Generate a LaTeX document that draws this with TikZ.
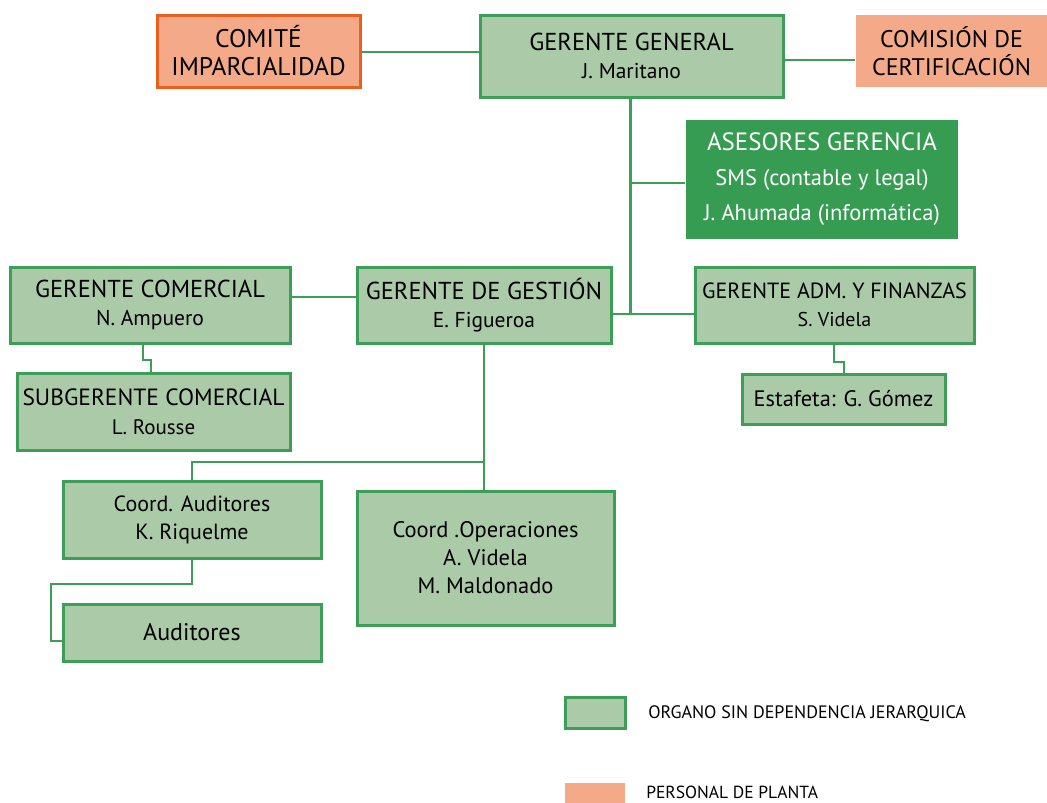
\documentclass[tikz,border=0pt]{standalone}
\usepackage{fontspec}
\setmainfont{PT Sans}
\definecolor{boxgreen}{HTML}{ABCBA8}
\definecolor{linegreen}{HTML}{3D9E58}
\definecolor{darkgreen}{HTML}{359C52}
\definecolor{salmon}{HTML}{F4A988}
\definecolor{orangeline}{HTML}{E9601E}
\newcommand{\person}[1]{{\fontsize{21.5}{24}\selectfont #1}}

\begin{document}
\begin{tikzpicture}[x=1pt,y=-1pt,line width=2.6pt,
    box/.style={draw=linegreen,line width=3pt,fill=boxgreen,align=center,inner sep=0pt,font=\fontsize{24.5}{28}\selectfont},
    link/.style={draw=linegreen,line width=2.6pt}]
    \useasboundingbox (0,0) rectangle (1047,803);

    % top row
    \node[box,minimum width=303,minimum height=82] (gg) at (631.5,56) {GERENTE GENERAL\\\person{J. Maritano}};
    \node[box,fill=salmon,draw=orangeline,minimum width=203,minimum height=72,font=\fontsize{25.5}{28}\selectfont] (comite) at (258.5,51) {COMITÉ\\IMPARCIALIDAD};
    \node[box,fill=salmon,draw=none,minimum width=191,minimum height=72,font=\fontsize{24}{28}\selectfont] (comision) at (951.5,51) {COMISIÓN DE\\CERTIFICACIÓN};

    \node[box,fill=darkgreen,draw=none,text=white,minimum width=272,minimum height=119,
        font=\fontsize{22.5}{35}\selectfont] (asesores) at (822,179.5)
        {{\fontsize{25}{28}\selectfont ASESORES GERENCIA}\\SMS (contable y legal)\\J. Ahumada (informática)};

    % second row
    \node[box,minimum width=280,minimum height=76] (gcom) at (150,305) {GERENTE COMERCIAL\\\person{N. Ampuero}};
    \node[box,minimum width=254,minimum height=76] (gges) at (484,305) {GERENTE DE GESTIÓN\\\person{E. Figueroa}};
    \node[box,minimum width=279,minimum height=76,font=\fontsize{22}{28}\selectfont] (gadm) at (834.5,305) {GERENTE ADM. Y FINANZAS\\{\fontsize{20}{24}\selectfont S. Videla}};

    \node[box,minimum width=273,minimum height=77,font=\fontsize{23.5}{29}\selectfont] (subcom) at (153.5,411.5) {SUBGERENTE COMERCIAL\\{\fontsize{21}{24}\selectfont L. Rousse}};
    \node[box,minimum width=203,minimum height=50,font=\fontsize{22.4}{26}\selectfont] (estafeta) at (843.5,399) {Estafeta: G. Gómez};

    % third row
    \node[box,minimum width=258,minimum height=77,font=\fontsize{22}{28}\selectfont] (caud) at (192,519.5) {Coord. Auditores\\K. Riquelme};
    \node[box,minimum width=257,minimum height=134,font=\fontsize{22.5}{28}\selectfont] (coper) at (485.5,558) {Coord .Operaciones\\A. Videla\\M. Maldonado};
    \node[box,minimum width=258,minimum height=57,font=\fontsize{24}{28}\selectfont] (aud) at (192,632.5) {Auditores};

    % legend
    \node[box,minimum width=60,minimum height=31] (leg1) at (595,712.5) {};
    \node[anchor=west,inner sep=0pt,font=\fontsize{18}{20}\selectfont] (leg1t) at (647,714) {ORGANO SIN DEPENDENCIA JERARQUICA};
    \node[fill=salmon,inner sep=0pt,minimum width=60,minimum height=20] (leg2) at (595,793) {};
    \node[anchor=west,inner sep=0pt,font=\fontsize{17.5}{20}\selectfont] (leg2t) at (645,792.5) {PERSONAL DE PLANTA};

    % connectors
    \coordinate (trunk) at (630.5,314);
    \path[link]
        (comite.east |- 0,52) -- (gg.west |- 0,52)
        (gg.east |- 0,60) -- (comision.west |- 0,60)
        (gg.south -| trunk) -- (trunk)
        (asesores.west |- 0,183) -- (trunk |- 0,183)
        (gges.east |- trunk) -- (gadm.west |- trunk)
        (gcom.east |- 0,297) -- (gges.west |- 0,297)
        ;
    \draw[link] (143,343) |- (151,360) -- (subcom.north -| 151,0);
    \draw[link] (834,343) |- (844,362) -- (estafeta.north -| 844,0);
    \draw[link] (gges.south) -- (484,462) -| (caud.north);
    \draw[link] (484,462) -- (coper.north -| 484,0);
    \draw[link] (caud.south) -- (192,584) -| (51,641) -- (aud.west |- 0,641);
\end{tikzpicture}
\end{document}
